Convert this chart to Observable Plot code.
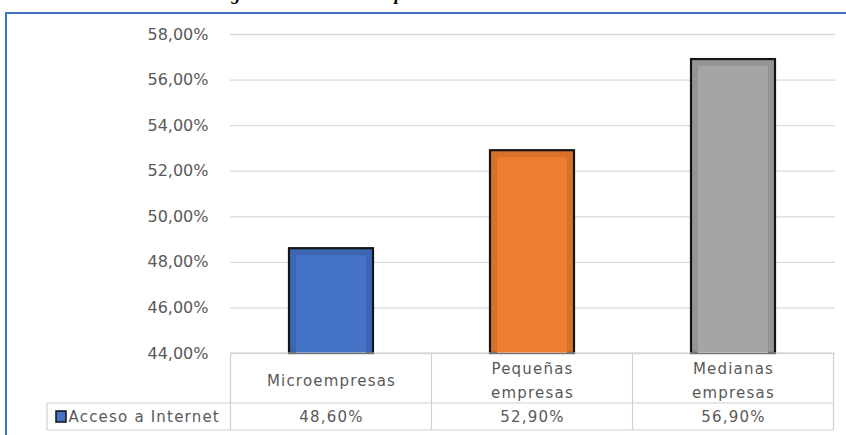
<!DOCTYPE html>
<html><head><meta charset="utf-8">
<script src="https://cdn.jsdelivr.net/npm/d3@7"></script>
<script src="https://cdn.jsdelivr.net/npm/@observablehq/plot@0.6"></script>
<style>
html,body{margin:0;padding:0;background:#fff;}
#wrap{position:relative;width:846px;height:435px;overflow:hidden;background:#fff;}
#frame{position:absolute;left:5px;top:12px;width:900px;height:500px;border-top:2px solid #4472C4;border-left:2px solid #4472C4;}
#title{position:absolute;top:-15px;left:82px;font:bold italic 18px "Liberation Serif";line-height:18px;white-space:nowrap;color:#000;}
#chart{position:absolute;left:0;top:0;}
#chart svg text{font-family:"DejaVu Sans";}
</style></head><body>
<div id="wrap"><div id="title">Acceso a Internet según tamaño de las empresas</div><div id="frame"></div><div id="chart"></div></div>
<script>
const categories = ["Microempresas", "Pequeñas\nempresas", "Medianas\nempresas"];
const values = [48.6, 52.9, 56.9];
const seriesName = "Acceso a Internet";
const yTicks = [44, 46, 48, 50, 52, 54, 56, 58];
const colors = ["#4472C4", "#ED7D31", "#A5A5A5"];
const edgeColors = ["#3c66b4", "#d8712c", "#959595"];

const data = categories.map((c, i) => ({cat: c, value: values[i], color: colors[i], edge: edgeColors[i]}));
const fmt = v => v.toFixed(2).replace(".", ",") + "%";
const gray = "#595959";

const plot = Plot.plot({
  width: 846, height: 435,
  marginTop: 34, marginBottom: 82, marginLeft: 230, marginRight: 11,
  style: {background: "transparent", fontFamily: "DejaVu Sans", fontSize: "16px", color: gray, overflow: "visible"},
  x: {domain: categories, paddingInner: 0.58, paddingOuter: 0.29, axis: null},
  y: {domain: [44, 58], axis: null},
  color: {type: "identity"},
  marks: [
    Plot.gridY(yTicks, {stroke: "#d9d9d9", strokeOpacity: 1, strokeWidth: 1.3}),
    Plot.axisY(yTicks, {tickSize: 0, tickPadding: 22, tickFormat: fmt, fill: gray, fontSize: 16, label: null}),
    Plot.barY(data, {x: "cat", y1: 44, y2: "value", fill: "edge", stroke: "#151515", strokeWidth: 2.2}),
    Plot.barY(data, {x: "cat", y1: 44, y2: "value", fill: "color", insetLeft: 7, insetRight: 7, insetTop: 7}),
    Plot.text(data, {x: "cat", text: "cat", frameAnchor: "bottom", lineAnchor: "middle", dy: 25, lineHeight: 1.55, fill: gray, fontSize: 15, textAnchor: "middle"}),
    Plot.text(data, {x: "cat", text: d => fmt(d.value), frameAnchor: "bottom", lineAnchor: "middle", dy: 64, fill: gray, fontSize: 15}),
    Plot.text([seriesName], {text: d => d, frameAnchor: "bottom-left", lineAnchor: "middle", dx: -162, dy: 64, textAnchor: "start", fill: gray, fontSize: 15})
  ]
});
document.getElementById("chart").appendChild(plot);

// data table grid, placed with the plot's own scales
const xs = plot.scale("x"), ys = plot.scale("y");
const svg = d3.select(plot);
const tableTop = ys.apply(44);
const step = xs.step, bw = xs.bandwidth;
const edges = [];
categories.forEach((c, i) => {
  const center = xs.apply(c) + bw / 2;
  if (i === 0) edges.push(center - step / 2);
  edges.push(center + step / 2);
});
const rowSplit = tableTop + 50, tableBottom = tableTop + 77, leftEdge = 47;
const g = svg.append("g").attr("stroke", "#d0d0d0").attr("stroke-width", 1.2).attr("fill", "none");
edges.forEach(x => g.append("line").attr("x1", x).attr("x2", x).attr("y1", tableTop).attr("y2", tableBottom));
g.append("line").attr("x1", edges[0]).attr("x2", edges[edges.length - 1]).attr("y1", tableTop).attr("y2", tableTop);
g.append("line").attr("x1", leftEdge).attr("x2", edges[edges.length - 1]).attr("y1", rowSplit).attr("y2", rowSplit);
g.append("line").attr("x1", leftEdge).attr("x2", edges[edges.length - 1]).attr("y1", tableBottom).attr("y2", tableBottom);
g.append("line").attr("x1", leftEdge).attr("x2", leftEdge).attr("y1", rowSplit).attr("y2", tableBottom);
// legend key
svg.append("rect").attr("x", 56).attr("y", tableTop + 58).attr("width", 10).attr("height", 11)
  .attr("fill", colors[0]).attr("stroke", "#111").attr("stroke-width", 1.5);
svg.selectAll('[aria-label="text"] text').style("letter-spacing", "1.2px");
</script>
</body></html>
